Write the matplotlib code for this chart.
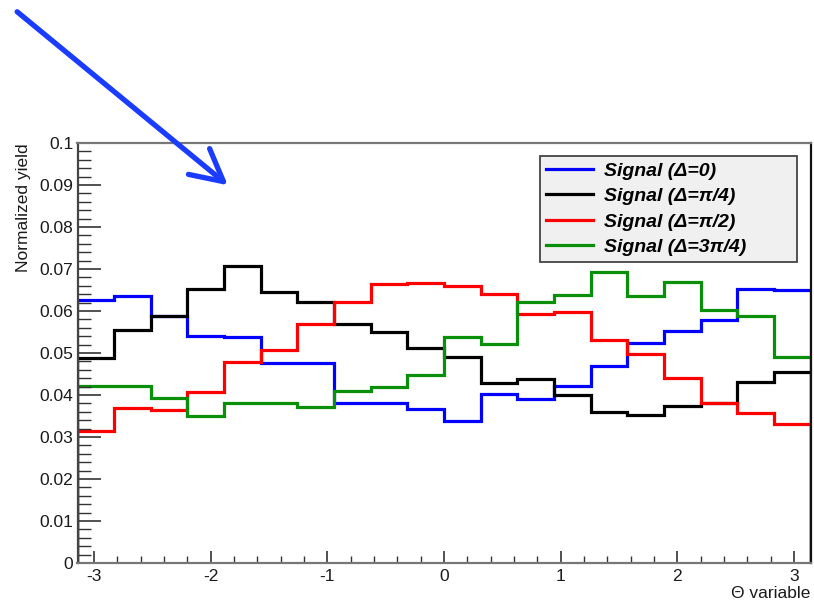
import numpy as np
import matplotlib
matplotlib.use('Agg')
import matplotlib.pyplot as plt
from matplotlib.ticker import MultipleLocator
from matplotlib.patches import FancyArrowPatch

plt.rcParams['font.family'] = ['Liberation Sans', 'DejaVu Sans']
plt.rcParams['axes.unicode_minus'] = False

# 20 bins over [-pi, pi]
n_bins = 20
edges = np.linspace(-np.pi, np.pi, n_bins + 1)

# normalized yields, bin by bin
sig_0 = [0.0625, 0.0636, 0.0588, 0.0541, 0.0539, 0.0477, 0.0477, 0.0382, 0.0382, 0.0367,
         0.0338, 0.0402, 0.0390, 0.0421, 0.0469, 0.0525, 0.0552, 0.0579, 0.0653, 0.0650]
sig_pi4 = [0.0487, 0.0555, 0.0588, 0.0652, 0.0707, 0.0646, 0.0622, 0.0568, 0.0549, 0.0511,
           0.0491, 0.0428, 0.0439, 0.0400, 0.0360, 0.0352, 0.0374, 0.0380, 0.0430, 0.0455]
sig_pi2 = [0.0315, 0.0368, 0.0364, 0.0408, 0.0479, 0.0507, 0.0569, 0.0621, 0.0664, 0.0667,
           0.0660, 0.0640, 0.0592, 0.0597, 0.0531, 0.0497, 0.0441, 0.0382, 0.0358, 0.0331]
sig_3pi4 = [0.0421, 0.0421, 0.0392, 0.0350, 0.0382, 0.0380, 0.0371, 0.0410, 0.0420, 0.0448,
            0.0537, 0.0521, 0.0621, 0.0637, 0.0694, 0.0636, 0.0670, 0.0602, 0.0589, 0.0491]

labels = ['Signal (\u0394=0)', 'Signal (\u0394=\u03c0/4)',
          'Signal (\u0394=\u03c0/2)', 'Signal (\u0394=3\u03c0/4)']
colors = ['#0000ff', '#000000', '#ff0000', '#0a8f0a']

W, H = 814, 602
fig = plt.figure(figsize=(W / 100, H / 100), dpi=100)
ax = fig.add_axes([77.5 / W, 1 - 563 / H, (810.5 - 77.5) / W, (563 - 143) / H])

for vals, c, lab in zip([sig_0, sig_pi4, sig_pi2, sig_3pi4], colors, labels):
    ax.stairs(vals, edges, baseline=0, color=c, lw=2.3, label=lab)

ax.set_xlim(-np.pi, np.pi)
ax.set_ylim(0, 0.1)

ax.xaxis.set_major_locator(MultipleLocator(1))
ax.xaxis.set_minor_locator(MultipleLocator(0.2))
ax.yaxis.set_minor_locator(MultipleLocator(0.002))
ax.set_yticks(np.arange(0, 0.101, 0.01))
ax.set_yticklabels(['0', '0.01', '0.02', '0.03', '0.04', '0.05', '0.06', '0.07', '0.08', '0.09', '0.1'])

ax.tick_params(axis='both', which='both', direction='in', top=False, right=False,
               color='#333333', labelsize=12.5, labelcolor='#1a1a1a')
ax.tick_params(axis='x', which='major', length=9, width=1.2, pad=4)
ax.tick_params(axis='x', which='minor', length=4.8, width=1.0)
ax.tick_params(axis='y', which='major', length=16.5, width=1.2, pad=3)
ax.tick_params(axis='y', which='minor', length=9, width=1.0)

for s in ['left', 'bottom', 'top']:
    ax.spines[s].set_color('#777777')
    ax.spines[s].set_linewidth(1.6)
ax.spines['left'].set_color('#444444')
ax.spines['right'].set_color('#111111')
ax.spines['right'].set_linewidth(1.6)

ax.set_ylabel('Normalized yield', fontsize=12.5, loc='top', labelpad=6, color='#1a1a1a')
ax.set_xlabel('\u0398 variable', fontsize=12.5, loc='right', labelpad=2, color='#1a1a1a')

x0 = (540 - 77.5) / 733
x1 = (797 - 77.5) / 733
y1 = (563 - 156) / 420
leg = ax.legend(loc='upper left', bbox_to_anchor=(x0, 0.5, x1 - x0, y1 - 0.5), mode='expand',
                borderaxespad=0, fancybox=False, framealpha=1, facecolor='#f0f0f0',
                edgecolor='#444444', handlelength=2.4, handletextpad=0.55,
                borderpad=0.32, labelspacing=0.4,
                prop={'size': 14, 'weight': 'bold', 'style': 'italic'})
leg.get_frame().set_linewidth(1.3)

# blue annotation arrow in the top-left corner
arrow = FancyArrowPatch((15, H - 10), (230, H - 187), transform=None,
                        arrowstyle='->,head_length=1.9,head_width=1.0',
                        mutation_scale=12, color='#1a3cff', lw=3.8,
                        capstyle='round', joinstyle='round')
fig.add_artist(arrow)

fig.savefig('out.png', dpi=100)
